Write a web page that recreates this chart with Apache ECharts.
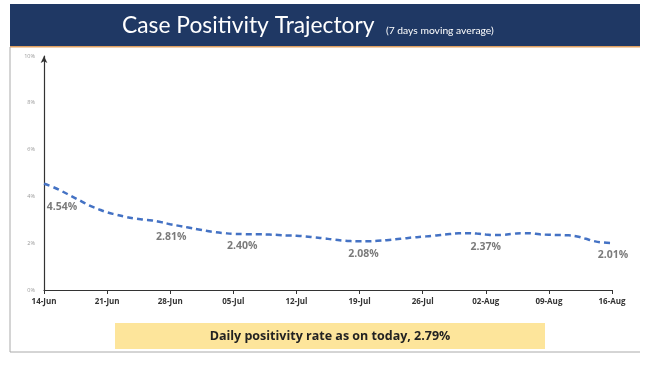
<!DOCTYPE html>
<html><head><meta charset="utf-8">
<script src="https://cdn.jsdelivr.net/npm/echarts@6/dist/echarts.min.js"></script>
<style>html,body{margin:0;padding:0;background:#fff}#c{width:650px;height:367px}</style>
</head><body><div id="c"></div>
<script>
const weekLabels = ['14-Jun','21-Jun','28-Jun','05-Jul','12-Jul','19-Jul','26-Jul','02-Aug','09-Aug','16-Aug'];
const positivity = [4.54,4.40,4.22,4.02,3.82,3.62,3.46,3.32,3.22,3.13,3.06,3.01,2.97,2.90,2.81,2.74,2.67,2.60,2.53,2.47,2.43,
  2.40,2.39,2.38,2.38,2.37,2.35,2.33,2.32,2.29,2.25,2.21,2.16,2.12,2.09,
  2.08,2.08,2.10,2.13,2.17,2.21,2.25,2.28,2.31,2.35,2.39,2.42,2.43,2.41,
  2.37,2.35,2.36,2.40,2.43,2.42,2.38,2.36,2.35,2.34,2.30,2.20,2.09,2.03,2.01];
const labelDays = [0,14,21,35,49,63];
const labelShift = [[18,12],[1,1],[9,1],[4,1],[0,1],[1,1]];
const yTicks = [0,2,4,6,8,10];

const lineData = positivity.map((v,i)=>[i,v]);
const labelData = labelDays.map(i=>[i,positivity[i]]);

const chart = echarts.init(document.getElementById('c'));
chart.setOption({
  animation:false,
  grid:{left:44,right:38,top:56,bottom:77},
  xAxis:{type:'value',min:0,max:63,interval:7,
    axisLine:{lineStyle:{color:'#333',width:1.2}},
    axisTick:{show:true,length:4,lineStyle:{color:'#333'}},
    splitLine:{show:false},
    axisLabel:{formatter:v=>weekLabels[v/7]||'',fontFamily:'Open Sans',fontWeight:'bold',fontSize:8,color:'#333',margin:8}},
  yAxis:{type:'value',min:yTicks[0],max:yTicks[yTicks.length-1],interval:2,
    axisLine:{show:true,symbol:['none','arrow'],symbolSize:[5,7],lineStyle:{color:'#333',width:1.2}},
    axisTick:{show:false},
    splitLine:{show:false},
    axisLabel:{formatter:'{value}%',fontFamily:'Open Sans',fontSize:5.5,color:'#999',margin:9}},
  series:[
    {type:'line',data:lineData,smooth:true,showSymbol:false,symbol:'none',
     lineStyle:{color:'#4472c4',width:2.5,type:[6,4]}},
    {type:'scatter',data:labelData,symbolSize:2,itemStyle:{color:'rgba(0,0,0,0)'},z:5,
     label:{show:true,position:'bottom',distance:5,formatter:p=>p.value[1].toFixed(2)+'%',
       fontFamily:'Open Sans',fontWeight:'bold',fontSize:10.5,color:'#595959'},
     labelLayout:p=>({dx:labelShift[p.dataIndex][0],dy:labelShift[p.dataIndex][1],hideOverlap:false})}
  ],
  graphic:[
    {type:'rect',shape:{x:10,y:4,width:630,height:42},style:{fill:'#1f3864'},z:0},
    {type:'rect',shape:{x:10,y:46,width:630,height:1.5},style:{fill:'#e0a060'},z:0},
    {type:'line',shape:{x1:10,y1:47,x2:10,y2:352},style:{stroke:'#aaa',lineWidth:1}},
    {type:'line',shape:{x1:10,y1:352,x2:640,y2:352},style:{stroke:'#aaa',lineWidth:1}},
    {type:'text',x:122,y:26,style:{text:'Case Positivity Trajectory',fill:'#fff',fontFamily:'Lato',fontSize:22.8,verticalAlign:'middle'}},
    {type:'text',x:386,y:31,style:{text:'(7 days moving average)',fill:'#fff',fontFamily:'Lato',fontSize:10.3,verticalAlign:'middle'}},
    {type:'rect',shape:{x:115,y:323,width:430,height:26},style:{fill:'#fde59b'}},
    {type:'text',x:330,y:336,style:{text:'Daily positivity rate as on today, 2.79%',fill:'#222',fontFamily:'Open Sans',fontWeight:'bold',fontSize:12.5,align:'center',verticalAlign:'middle'}}
  ]
});
</script></body></html>
